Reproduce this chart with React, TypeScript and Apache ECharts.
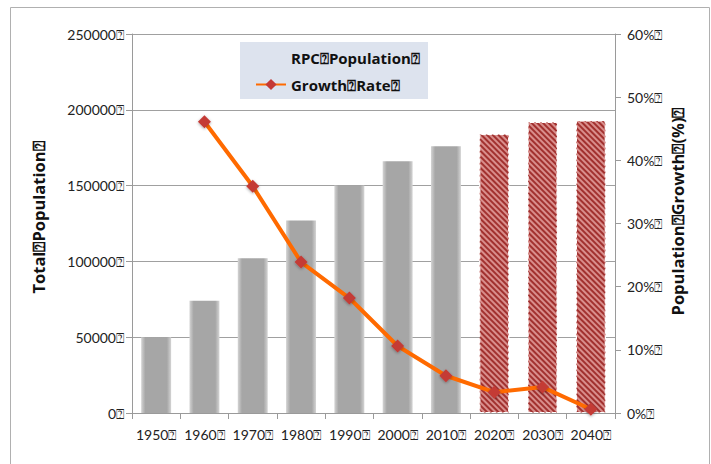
import React, { useEffect, useRef } from "react";
import * as echarts from "echarts";

const BOX = "\u2370";
const years = ["1950", "1960", "1970", "1980", "1990", "2000", "2010", "2020", "2030", "2040"];
const population = [50000, 74000, 102000, 127000, 150000, 166000, 176000, 184000, 192000, 193000];
const projected = [false, false, false, false, false, false, false, true, true, true];
const growthRate = [null, 46.1, 35.9, 23.9, 18.2, 10.6, 5.9, 3.3, 4.1, 0.6];
const popTicks = [0, 50000, 100000, 150000, 200000, 250000];
const pctTicks = [0, 10, 20, 30, 40, 50, 60];

const seriesPop = "RPC" + BOX + "Population" + BOX;
const seriesGrowth = "Growth" + BOX + "Rate" + BOX;

export default function App() {
  const ref = useRef<HTMLDivElement>(null);
  useEffect(() => {
    if (!ref.current) return;
    const chart = echarts.init(ref.current, undefined, { renderer: "svg" });
    const font = "Lato, 'Noto Sans', sans-serif";
    const boldFont = "'Open Sans', 'Noto Sans', sans-serif";
    const grayFill = new echarts.graphic.LinearGradient(0, 0, 1, 0, [
      { offset: 0, color: "#d4d4d4" },
      { offset: 0.14, color: "#a6a6a6" },
      { offset: 0.86, color: "#a6a6a6" },
      { offset: 1, color: "#d4d4d4" },
    ]);
    const barData = population.map((v, i) =>
      projected[i]
        ? {
            value: v,
            itemStyle: {
              color: "#a2312f",
              borderColor: "#ffffff",
              borderType: "dashed",
              borderWidth: 1,
              decal: {
                symbol: "rect",
                symbolSize: 1,
                dashArrayX: [1, 0],
                dashArrayY: [2, 2],
                rotation: Math.PI / 4,
                color: "#d98e8c",
              },
            },
          }
        : { value: v, itemStyle: { color: grayFill } }
    );
    const option: any = {
      animation: false,
      textStyle: { fontFamily: font },
      graphic: [
        {
          type: "rect",
          shape: { x: 10.5, y: 7.5, width: 699, height: 470 },
          style: { fill: "none", stroke: "#b0b0b0", lineWidth: 1 },
          z: -10,
        },
        {
          type: "rect",
          shape: { x: 240, y: 42, width: 188, height: 57 },
          style: { fill: "#dde3ee" },
          z: 1,
        },
      ],
      legend: {
        orient: "vertical",
        left: 250,
        top: 45,
        itemGap: 12,
        itemWidth: 30,
        itemHeight: 14,
        z: 10,
        textStyle: { fontFamily: boldFont, fontSize: 15, fontWeight: "bold", color: "#111" },
        data: [
          { name: seriesPop, itemStyle: { opacity: 0 } },
          { name: seriesGrowth },
        ],
      },
      grid: { left: 132, right: 96, top: 34, bottom: 51 },
      xAxis: {
        type: "category",
        data: years,
        axisLine: { lineStyle: { color: "#9a9a9a" } },
        axisTick: { show: true, alignWithLabel: false, length: 6, lineStyle: { color: "#9a9a9a" } },
        axisLabel: {
          interval: 0,
          formatter: (v: string) => v + BOX,
          color: "#222",
          fontSize: 14,
          margin: 14,
          fontFamily: font,
        },
      },
      yAxis: [
        {
          type: "value",
          min: popTicks[0],
          max: popTicks[popTicks.length - 1],
          interval: 50000,
          name: "Total" + BOX + "Population" + BOX,
          nameLocation: "middle",
          nameRotate: 90,
          nameGap: 85,
          nameMoveOverlap: false,
          nameTextStyle: { fontSize: 16.5, fontWeight: "bold", color: "#111", fontFamily: boldFont, padding: [0, 0, 0, 12] },
          axisLine: { show: true, lineStyle: { color: "#9a9a9a" } },
          axisTick: { show: true, length: 6, lineStyle: { color: "#9a9a9a" } },
          splitLine: { lineStyle: { color: "#a0a0a0" } },
          axisLabel: {
            formatter: (v: number) => v + BOX,
            color: "#222",
            fontSize: 14,
            margin: 8,
            fontFamily: font,
          },
        },
        {
          type: "value",
          min: pctTicks[0],
          max: pctTicks[pctTicks.length - 1],
          interval: 10,
          position: "right",
          name: "Population" + BOX + "Growth" + BOX + "(%)" + BOX,
          nameLocation: "middle",
          nameRotate: 90,
          nameGap: 54,
          nameMoveOverlap: false,
          nameTextStyle: { fontSize: 16.5, fontWeight: "bold", color: "#111", fontFamily: boldFont, padding: [0, 0, 0, 24] },
          axisLine: { show: true, lineStyle: { color: "#9a9a9a" } },
          axisTick: { show: true, length: 6, lineStyle: { color: "#9a9a9a" } },
          splitLine: { show: false },
          axisLabel: {
            formatter: (v: number) => v + "%" + BOX,
            color: "#222",
            fontSize: 14,
            margin: 12,
            fontFamily: font,
          },
        },
      ],
      series: [
        {
          name: seriesPop,
          type: "bar",
          yAxisIndex: 0,
          barCategoryGap: "38%",
          data: barData,
          z: 2,
        },
        {
          name: seriesGrowth,
          type: "line",
          yAxisIndex: 1,
          data: growthRate,
          connectNulls: false,
          symbol: "diamond",
          symbolSize: 13,
          lineStyle: { color: "#ff6a00", width: 4 },
          itemStyle: {
            color: "#c43a36",
            shadowColor: "rgba(0,0,0,0.35)",
            shadowBlur: 3,
            shadowOffsetY: 1,
          },
          z: 5,
        },
      ],
    };
    chart.setOption(option);
    return () => chart.dispose();
  }, []);
  return <div ref={ref} style={{ width: 711, height: 464, position: "absolute", left: 0, top: 0 }} />;
}
